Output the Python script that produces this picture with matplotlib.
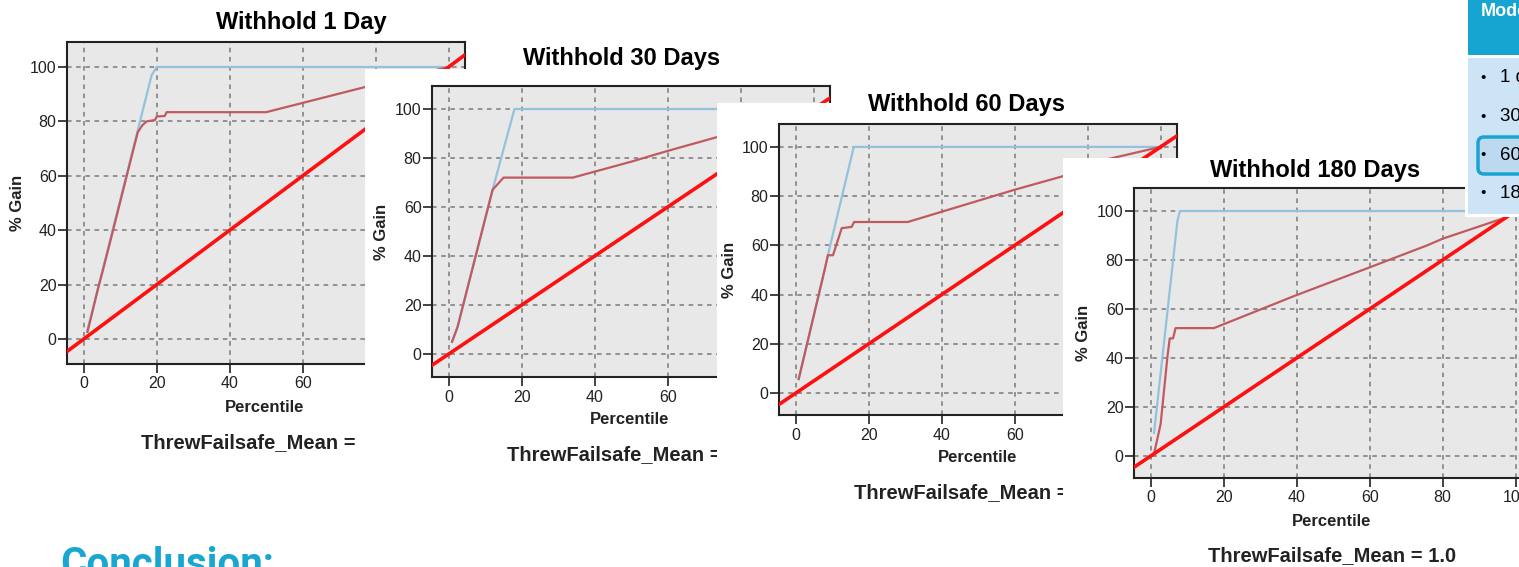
import matplotlib
matplotlib.use("Agg")
import matplotlib.pyplot as plt
from matplotlib.patches import Rectangle, FancyBboxPatch
from matplotlib.transforms import Affine2D

# gain curves (percentile, % gain)
titles = ["Withhold 1 Day", "Withhold 30 Days", "Withhold 60 Days", "Withhold 180 Days"]

pct_model_1 = [1, 2, 3, 4, 5, 7, 10, 13, 14.8, 16, 17.2, 19.5, 20, 22.2, 22.7, 50, 77, 100]
gain_model_1 = [2.6, 8, 13.5, 19, 24, 34.5, 50.5, 66.5, 76, 78.5, 80, 80.5, 81.8, 82, 83.4, 83.4, 92.6, 100]
pct_best_1 = [1, 18.6, 20, 100]
gain_best_1 = [3.3, 97, 100, 100]

pct_model_30 = [0.9, 2.4, 12, 15, 34, 50, 60, 73.7, 100]
gain_model_30 = [5, 11, 67, 72, 72, 78.5, 82.9, 88.6, 100]
pct_best_30 = [0.9, 2.4, 12, 18, 100]
gain_best_30 = [5, 11, 67, 100, 100]

pct_model_60 = [0.8, 7.9, 8.8, 10.2, 12.6, 15.3, 16, 30.7, 60, 73, 84, 100]
gain_model_60 = [5.7, 50, 56, 56, 67, 67.5, 69.5, 69.5, 82.6, 88, 94.5, 100]
pct_best_60 = [0.8, 7.9, 8.8, 15.9, 100]
gain_best_60 = [5.7, 50, 56, 100, 100]

pct_model_180 = [1, 2.7, 4.6, 5.2, 6.1, 6.8, 17.3, 39.3, 60, 75.8, 80, 97.8, 100]
gain_model_180 = [1.6, 13, 41, 48, 48, 52.2, 52.2, 65.3, 77, 86, 88.7, 97.6, 100]
pct_best_180 = [0.9, 7.3, 8, 100]
gain_best_180 = [9.4, 96, 100, 100]

ticks = [0, 20, 40, 60, 80, 100]
mean_label = "ThrewFailsafe_Mean = 1.0"
legend_items = ["1 day", "30 days", "60 days", "180 days"]

W, H = 1519, 567
plt.rcParams['font.family'] = ['Liberation Sans', 'DejaVu Sans']

fig = plt.figure(figsize=(W / 100, H / 100), dpi=100)
# pixel coords, origin top-left
T = Affine2D().scale(1 / 100, -1 / 100).translate(0, H / 100) + fig.dpi_scale_trans


def axrect(l, t, r, b):
    return [l / W, 1 - b / H, (r - l) / W, (b - t) / H]


# (panel box, axes box, title xy, xlabel xy, ylabel xy, mean text xy)
layout = [
    ((0, 0, 365, 490), (67, 42, 465, 364), (301, 22), (265, 407), (18, 203), (141, 443)),
    ((365, 69, 870, 490), (432, 86, 830, 377), (622, 58), (630, 420), (382, 232), (507, 455)),
    ((717, 103, 1200, 525), (779, 124, 1177, 415), (966, 104), (978, 458), (729, 270), (854, 493)),
    ((1063, 158, 1560, 600), (1134, 188, 1532, 478), (1315, 170), (1332, 522), (1084, 333), (1208, 556)),
]
curves = [
    (pct_model_1, gain_model_1, pct_best_1, gain_best_1),
    (pct_model_30, gain_model_30, pct_best_30, gain_best_30),
    (pct_model_60, gain_model_60, pct_best_60, gain_best_60),
    (pct_model_180, gain_model_180, pct_best_180, gain_best_180),
]
ylims = [(-9.2, 109.2), (-9.4, 109.4), (-8.9, 109.3), (-9.0, 109.4)]

for i, (lay, cur) in enumerate(zip(layout, curves)):
    z = 10 * (i + 1)
    box, axbox, txy, xlxy, ylxy, mxy = lay
    l, t, r, b = box
    fig.add_artist(Rectangle((l, t), r - l, b - t, transform=T, facecolor='white',
                             edgecolor='none', zorder=z))
    # the caption under panel 1 is cut right after the "=" in the slide
    if i == 1:
        fig.add_artist(Rectangle((359, 430), 10, 30, transform=T, facecolor='white',
                                 edgecolor='none', zorder=z))
    ax = fig.add_axes(axrect(*axbox))
    ax.set_zorder(z + 1)
    ax.set_facecolor('#e8e8e8')
    pm, gm, pb, gb = cur
    ax.plot(pb, gb, color='#93c3dc', lw=1.6, zorder=3)
    ax.plot(pm, gm, color='#c05a60', lw=1.6, zorder=4)
    ax.axline((0, 0), (100, 100), color='#ff1010', lw=2.6, zorder=5)
    ax.set_xlim(-4.6, 104.5)
    ax.set_ylim(*ylims[i])
    ax.set_xticks(ticks)
    ax.set_yticks(ticks)
    ax.grid(True, color='#7a7a7a', lw=1.1, linestyle=(0, (3, 3)), zorder=1)
    ax.set_axisbelow(True)
    for s in ax.spines.values():
        s.set_linewidth(1.5)
        s.set_color('#222222')
    ax.tick_params(axis='both', length=6.5, width=1.2, labelsize=11.5,
                   labelcolor='#222222', color='#222222')
    ax.tick_params(axis='y', pad=1)
    ax.tick_params(axis='x', pad=2.5)
    fig.text(txy[0], txy[1], titles[i], transform=T, ha='center', va='center',
             fontsize=17, fontweight='bold', zorder=z + 2)
    fig.text(xlxy[0], xlxy[1], "Percentile", transform=T, ha='center', va='center',
             fontsize=12, fontweight='bold', color='#222222', zorder=z + 2)
    fig.text(ylxy[0], ylxy[1], "% Gain", transform=T, ha='center', va='center',
             rotation=90, fontsize=12, fontweight='bold', color='#222222', zorder=z + 2)
    fig.text(mxy[0], mxy[1], mean_label, transform=T, ha='left', va='center',
             fontsize=14.5, fontweight='bold', color='#222222', zorder=z + 2)

# slide legend box in the top-right corner
zl = 100
fig.add_artist(Rectangle((1465, -5), 80, 222, transform=T, facecolor='white',
                         edgecolor='none', zorder=zl))
fig.add_artist(Rectangle((1468, -5), 80, 60, transform=T, facecolor='#16a4d0',
                         edgecolor='none', zorder=zl + 1))
fig.add_artist(Rectangle((1468, 58), 80, 156, transform=T, facecolor='#cde4f7',
                         edgecolor='none', zorder=zl + 1))
fig.add_artist(FancyBboxPatch((1478, 137), 70, 37, boxstyle="round,pad=0,rounding_size=6",
                              transform=T, facecolor='#bcd9ef', edgecolor='#1aa3d1',
                              lw=2.5, zorder=zl + 2))
fig.text(1481, 12, "Model", transform=T, ha='left', va='center', fontsize=13,
         fontweight='bold', color='white', zorder=zl + 3)
for k, item in enumerate(legend_items):
    yy = 78 + k * 38.5
    fig.text(1483, yy, "\u2022", transform=T, ha='center', va='center', fontsize=11,
             color='black', zorder=zl + 3)
    fig.text(1500, yy, item, transform=T, ha='left', va='center', fontsize=13.5,
             color='black', zorder=zl + 3)

fig.text(60, 576, "Conclusion:", transform=T, ha='left', va='baseline', fontsize=29,
         fontweight='bold', color='#19a6d1', family=['Roboto', 'DejaVu Sans'], zorder=zl)

fig.savefig("out.png", dpi=100)
